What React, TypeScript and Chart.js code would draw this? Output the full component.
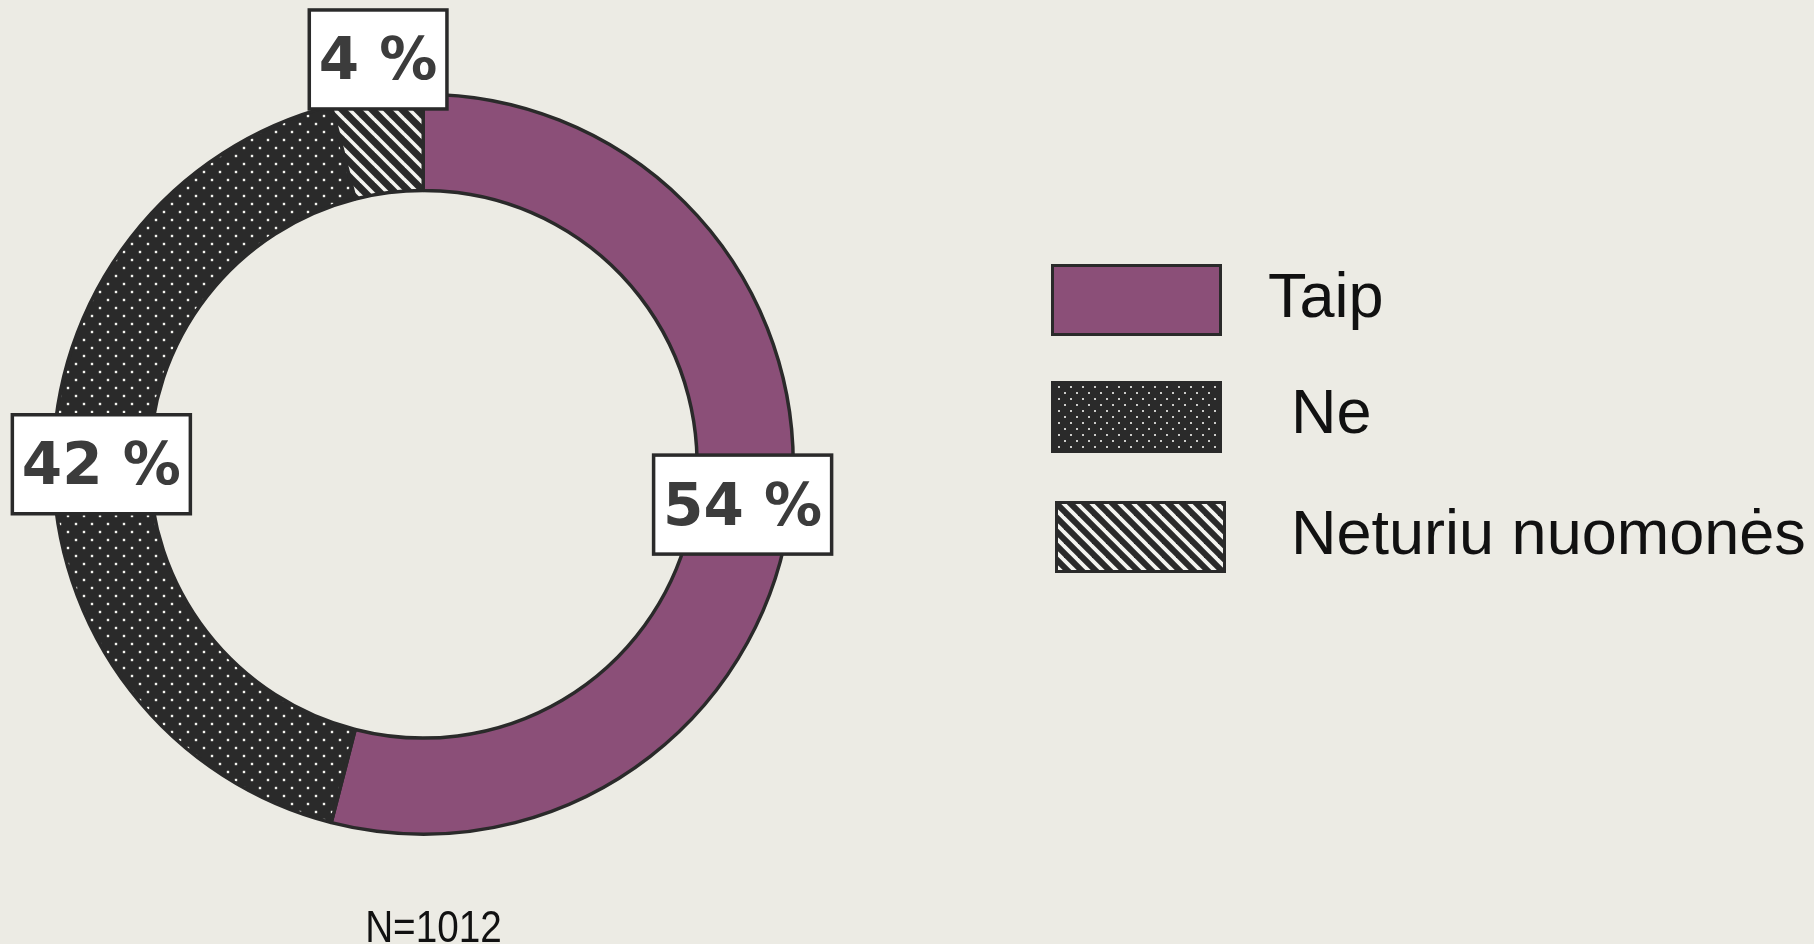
import React, { useEffect, useRef } from "react";
import { Chart, registerables } from "chart.js";

Chart.register(...registerables);

const categories = ["Taip", "Ne", "Neturiu nuomonės"];
const shares = [54, 42, 4];
const valueLabels = ["54 %", "42 %", "4 %"];
const sampleNote = "N=1012";

const BG = "#ecebe4";
const DARK = "#2a2a2a";
const PURPLE = "#8b4f78";

function tileCanvas(w: number, h: number) {
  const c = document.createElement("canvas");
  c.width = w;
  c.height = h;
  return c;
}

function dotsPattern(size: number, dot: number) {
  const c = tileCanvas(size, size);
  const g = c.getContext("2d")!;
  g.fillStyle = DARK;
  g.fillRect(0, 0, size, size);
  g.fillStyle = "#f4f4f0";
  const q = size / 4;
  g.fillRect(q - dot / 2, q - dot / 2, dot, dot);
  g.fillRect(3 * q - dot / 2, 3 * q - dot / 2, dot, dot);
  return document.createElement("canvas").getContext("2d")!.createPattern(c, "repeat")!;
}

function hatchPattern(size: number, lw: number) {
  const c = tileCanvas(size, size);
  const g = c.getContext("2d")!;
  g.fillStyle = DARK;
  g.fillRect(0, 0, size, size);
  g.strokeStyle = "#f4f4f0";
  g.lineWidth = lw;
  for (const k of [-size, 0, size]) {
    g.beginPath();
    g.moveTo(k - 2, -2);
    g.lineTo(k + size + 2, size + 2);
    g.stroke();
  }
  return document.createElement("canvas").getContext("2d")!.createPattern(c, "repeat")!;
}

export default function App() {
  const ref = useRef<HTMLCanvasElement | null>(null);

  useEffect(() => {
    if (!ref.current) return;
    const fills: any[] = [PURPLE, dotsPattern(16, 2.4), hatchPattern(15, 3.6)];
    const legendFills: any[] = [PURPLE, dotsPattern(12, 1.8), hatchPattern(14, 3.8)];

    const bgPlugin = {
      id: "bg",
      beforeDraw(chart: any) {
        const { ctx, width, height } = chart;
        ctx.save();
        ctx.fillStyle = BG;
        ctx.fillRect(0, 0, width, height);
        ctx.restore();
      },
    };

    const boxLabels = {
      id: "boxLabels",
      afterDatasetsDraw(chart: any) {
        const { ctx } = chart;
        const meta = chart.getDatasetMeta(0);
        const total = shares.reduce((a, b) => a + b, 0);
        ctx.save();
        ctx.font = "bold 58px 'DejaVu Sans'";
        meta.data.forEach((arc: any, i: number) => {
          const p = arc.getProps(["x", "y", "startAngle", "endAngle", "innerRadius", "outerRadius"], true);
          const mid = (p.startAngle + p.endAngle) / 2;
          const small = shares[i] / total < 0.1;
          const r = small ? p.outerRadius + 38 : (p.innerRadius + p.outerRadius) / 2;
          const cx = p.x + Math.cos(mid) * r + (small ? 6 : 0);
          const cy = p.y + Math.sin(mid) * r;
          const text = valueLabels[i];
          const tw = ctx.measureText(text).width;
          const w = tw + 19;
          const h = 99;
          ctx.fillStyle = "#ffffff";
          ctx.fillRect(cx - w / 2, cy - h / 2, w, h);
          ctx.lineWidth = 3.5;
          ctx.strokeStyle = DARK;
          ctx.strokeRect(cx - w / 2, cy - h / 2, w, h);
          ctx.fillStyle = "#3c3c3c";
          ctx.textAlign = "center";
          ctx.textBaseline = "alphabetic";
          ctx.fillText(text, cx, cy + 20);
        });
        ctx.restore();
      },
    };

    const legendTextX = [1268, 1291, 1291];
    const legendBaseY = [317, 433, 554];
    const legendBoxX = [1051, 1051, 1055];
    const legendBoxY = [264, 381, 501];
    const customLegend = {
      id: "customLegend",
      afterDraw(chart: any) {
        const { ctx } = chart;
        ctx.save();
        categories.forEach((label, i) => {
          const bx = legendBoxX[i];
          const by = legendBoxY[i];
          ctx.fillStyle = legendFills[i];
          ctx.fillRect(bx, by, 171, 72);
          ctx.lineWidth = 3;
          ctx.strokeStyle = DARK;
          ctx.strokeRect(bx + 1.5, by + 1.5, 168, 69);
          ctx.font = "63px 'Liberation Sans'";
          ctx.fillStyle = "#111111";
          ctx.textAlign = "left";
          ctx.textBaseline = "alphabetic";
          ctx.fillText(label, legendTextX[i], legendBaseY[i]);
        });
        ctx.save();
        ctx.translate(433.5, 942);
        ctx.scale(0.88, 1);
        ctx.font = "44px 'Liberation Sans'";
        ctx.fillStyle = "#111111";
        ctx.textAlign = "center";
        ctx.textBaseline = "alphabetic";
        ctx.fillText(sampleNote, 0, 0);
        ctx.restore();
        ctx.restore();
      },
    };

    const chart = new Chart(ref.current, {
      type: "doughnut",
      data: {
        labels: categories,
        datasets: [
          {
            data: shares,
            backgroundColor: fills,
            borderColor: DARK,
            borderWidth: 3.5,
          },
        ],
      },
      options: {
        animation: false,
        responsive: true,
        maintainAspectRatio: false,
        cutout: "74%",
        layout: { padding: { left: 51.5, top: 92.5, right: 1019, bottom: 108 } },
        plugins: {
          legend: { display: false },
          tooltip: { enabled: false },
        },
      },
      plugins: [bgPlugin, boxLabels, customLegend],
    });
    return () => chart.destroy();
  }, []);

  return (
    <div style={{ position: "fixed", left: 0, top: 0, width: 1814, height: 944, background: BG }}>
      <canvas ref={ref} />
    </div>
  );
}
